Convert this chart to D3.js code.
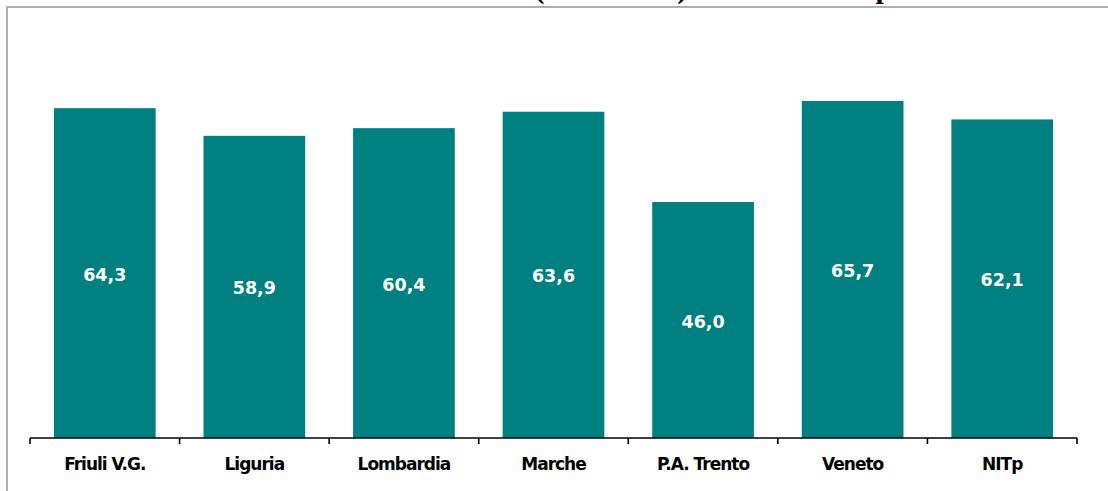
<!DOCTYPE html>
<html>
<head>
<meta charset="utf-8">
<script src="https://cdn.jsdelivr.net/npm/d3@7/dist/d3.min.js"></script>
<style>
  html, body { margin: 0; padding: 0; background: #fff; }
  svg { display: block; }
</style>
</head>
<body>
<svg id="chart" width="1108" height="491"></svg>
<script>
const categories = ["Friuli V.G.", "Liguria", "Lombardia", "Marche", "P.A. Trento", "Veneto", "NITp"];
const values = [64.3, 58.9, 60.4, 63.6, 46.0, 65.7, 62.1];
const valueLabels = ["64,3", "58,9", "60,4", "63,6", "46,0", "65,7", "62,1"];
const titleText = "Tasso medio di attività (15-64 anni) nelle aree NITp";

const W = 1108, H = 491;
const svg = d3.select("#chart");

// outer frame (partially off-canvas)
svg.append("rect")
  .attr("x", 7).attr("y", 7)
  .attr("width", 1300).attr("height", 700)
  .attr("fill", "none")
  .attr("stroke", "#b0b0b0")
  .attr("stroke-width", 2);

// title (cut off at the top, as in the reference)
svg.append("text")
  .attr("x", 567).attr("y", -2)
  .attr("text-anchor", "middle")
  .attr("font-family", "'Liberation Serif', 'Times New Roman', serif")
  .attr("font-weight", "bold")
  .attr("font-size", 30)
  .attr("textLength", 650)
  .attr("lengthAdjust", "spacingAndGlyphs")
  .text(titleText);

const left = 30, right = 1077, baseY = 438;

const x = d3.scaleBand()
  .domain(categories)
  .range([left, right])
  .paddingInner(0.32)
  .paddingOuter(0.16);

const y = d3.scaleLinear()
  .domain([0, 80])
  .range([baseY, baseY - 80 * 5.13]);

const data = categories.map((c, i) => ({ c, v: values[i], l: valueLabels[i] }));

svg.append("g").selectAll("rect")
  .data(data)
  .join("rect")
  .attr("x", d => x(d.c))
  .attr("y", d => y(d.v))
  .attr("width", x.bandwidth())
  .attr("height", d => y(0) - y(d.v))
  .attr("fill", "#008080");

svg.append("g").selectAll("text")
  .data(data)
  .join("text")
  .attr("x", d => x(d.c) + x.bandwidth() / 2)
  .attr("y", d => (y(d.v) + y(0)) / 2 + 7.5)
  .attr("text-anchor", "middle")
  .attr("font-family", "Verdana, 'DejaVu Sans', sans-serif")
  .attr("font-weight", "bold")
  .attr("font-size", 17.5)
  .attr("fill", "#ffffff")
  .text(d => d.l);

// axis
const axis = svg.append("g");
axis.append("line")
  .attr("x1", left).attr("x2", right)
  .attr("y1", baseY).attr("y2", baseY)
  .attr("stroke", "#000").attr("stroke-width", 1.6);
const bounds = d3.range(categories.length + 1).map(i => left + i * (right - left) / categories.length);
axis.selectAll("line.tick")
  .data(bounds)
  .join("line")
  .attr("class", "tick")
  .attr("x1", d => d).attr("x2", d => d)
  .attr("y1", baseY).attr("y2", baseY + 6)
  .attr("stroke", "#000").attr("stroke-width", 1.6);

axis.selectAll("text")
  .data(categories)
  .join("text")
  .attr("x", d => x(d) + x.bandwidth() / 2)
  .attr("y", 469.5)
  .attr("text-anchor", "middle")
  .attr("font-family", "Verdana, 'DejaVu Sans', sans-serif")
  .attr("font-weight", "bold")
  .attr("font-size", 17)
  .attr("letter-spacing", "-1")
  .attr("fill", "#000")
  .text(d => d);
</script>
</body>
</html>
